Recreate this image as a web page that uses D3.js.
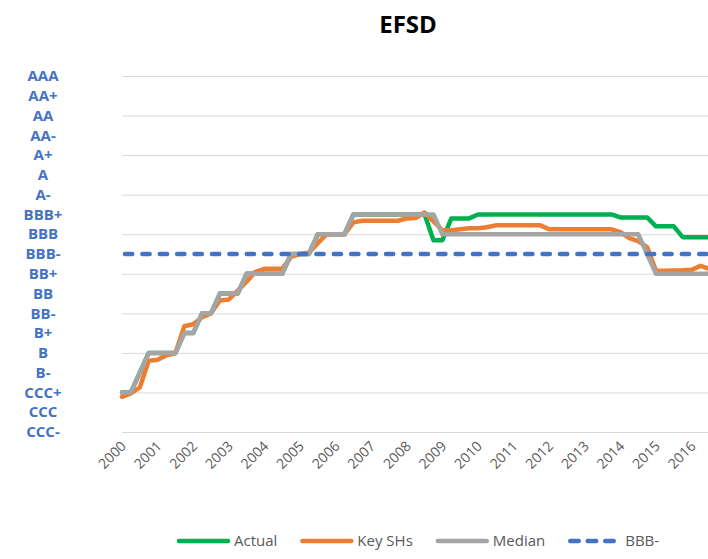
<!DOCTYPE html>
<meta charset="utf-8">
<html>
  <head>
  <title>EFSD</title>
    <style>
      body {
        margin: 0;
        background: #fff;
      }
      svg {
        display: block;
        font-family: 'Open Sans', sans-serif;
      }
      .grid line {
        stroke: #d9d9d9;
        stroke-width: 1;
      }
      .grid .domain {
        display: none;
      }
      .yLabel {
        font-weight: bold;
        font-size: 15px;
        fill: #4472C4;
      }
      .xLabel {
        font-size: 14px;
        fill: #595959;
      }
      .legendText {
        font-size: 15px;
        fill: #595959;
      }
    </style>
  </head>
  <body>
<div id="svgCanvas"></div>

<script src="https://d3js.org/d3.v7.min.js"></script>
<script>

// rating scale, bottom to top
var ratings = ["CCC-", "CCC", "CCC+", "B-", "B", "B+", "BB-", "BB", "BB+",
  "BBB-", "BBB", "BBB+", "A-", "A", "A+", "AA-", "AA", "AA+", "AAA"];

var years = [2000, 2001, 2002, 2003, 2004, 2005, 2006, 2007, 2008,
  2009, 2010, 2011, 2012, 2013, 2014, 2015, 2016];

// quarterly values, in rating notches (CCC- = 0)
var actual = [2, 2, 3, 4, 4, 4, 4, 5, 5, 6, 6, 7, 7, 7, 8, 8, 8, 8, 8, 9, 9, 9,
  10, 10, 10, 10, 11, 11, 11, 11, 11, 11, 11, 11, 11, 9.7, 9.7, 10.8, 10.8, 10.8,
  11, 11, 11, 11, 11, 11, 11, 11, 11, 11, 11, 11, 11, 11, 11, 11,
  10.85, 10.85, 10.85, 10.85, 10.4, 10.4, 10.4, 9.85, 9.85, 9.85, 9.85];

var keySHs = [1.78, 1.95, 2.25, 3.6, 3.65, 3.88, 3.98, 5.35, 5.45, 5.8, 6.0,
  6.65, 6.7, 7.15, 7.6, 8.1, 8.25, 8.25, 8.25, 8.85, 9.0, 9.07, 9.55, 10.0,
  10.0, 10.0, 10.6, 10.68, 10.68, 10.68, 10.68, 10.68, 10.8, 10.82, 11.1, 10.65,
  10.2, 10.2, 10.25, 10.3, 10.3, 10.35, 10.45, 10.45, 10.45, 10.45, 10.45, 10.45,
  10.25, 10.25, 10.25, 10.25, 10.25, 10.25, 10.25, 10.25, 10.1, 9.8, 9.65, 9.35,
  8.15, 8.15, 8.17, 8.18, 8.2, 8.4, 8.25];

var median = [2, 2, 3, 4, 4, 4, 4, 5, 5, 6, 6, 7, 7, 7, 8, 8, 8, 8, 8, 9, 9, 9,
  10, 10, 10, 10, 11, 11, 11, 11, 11, 11, 11, 11, 11, 11,
  10, 10, 10, 10, 10, 10, 10, 10, 10, 10, 10, 10, 10, 10, 10, 10, 10, 10, 10,
  10, 10, 10, 10, 9, 8, 8, 8, 8, 8, 8, 8];

var threshold = "BBB-";

var seriesNames = ["Actual", "Key SHs", "Median", "BBB-"];
var colors = ["#00B050", "#ED7D31", "#A5A5A5", "#4472C4"];

// one category per quarter
var quarters = years.flatMap(function (yr) {
  return ["Q1", "Q2", "Q3", "Q4"].map(function (q) { return yr + q; });
}).slice(0, actual.length);

var width = 708;
var height = 559;

var holder = d3.select("#svgCanvas")
    .append("svg")
      .attr("width", width)
      .attr("height", height);

var x = d3.scalePoint()
    .domain(quarters)
    .range([122, 709.4]);

var y = d3.scaleLinear()
    .domain([0, ratings.length - 1])
    .range([432, 76]);

// title
holder.append("text")
    .attr("x", 408)
    .attr("y", 33)
    .attr("text-anchor", "middle")
    .style("font-size", "24px")
    .style("font-weight", "bold")
    .style("fill", "#000")
    .text("EFSD");

// gridlines every second notch
holder.append("g")
    .attr("class", "grid")
    .attr("transform", "translate(122,0)")
    .call(d3.axisLeft(y)
      .tickValues(d3.range(0, ratings.length, 2))
      .tickSize(-(width - 122))
      .tickFormat(""));

// rating labels
holder.selectAll(".yLabel")
  .data(ratings).enter()
    .append("text")
    .attr("class", "yLabel")
    .attr("x", 43)
    .attr("y", function (d, i) { return y(i); })
    .attr("dy", "0.35em")
    .attr("text-anchor", "middle")
    .text(function (d) { return d; });

// year labels, slanted
holder.selectAll(".xLabel")
  .data(years).enter()
    .append("text")
    .attr("class", "xLabel")
    .attr("text-anchor", "end")
    .attr("transform", function (d) {
      return "translate(" + (x(d + "Q1") + 5) + ",447) rotate(-45)";
    })
    .text(function (d) { return d; });

var line = d3.line()
    .x(function (d, i) { return x(quarters[i]); })
    .y(function (d) { return y(d); });

var series = [actual, keySHs, median];

holder.selectAll(".series")
  .data(series).enter()
    .append("path")
    .attr("class", "series")
    .attr("d", line)
    .style("fill", "none")
    .style("stroke", function (d, i) { return colors[i]; })
    .style("stroke-width", 4.5)
    .style("stroke-linejoin", "round")
    .style("stroke-linecap", "round");

// BBB- reference line
var level = ratings.indexOf(threshold);
holder.append("line")
    .attr("x1", x(quarters[0]) + 3)
    .attr("x2", x(quarters[quarters.length - 1]))
    .attr("y1", y(level))
    .attr("y2", y(level))
    .style("stroke", colors[3])
    .style("stroke-width", 4.5)
    .style("stroke-linecap", "round")
    .style("stroke-dasharray", "7.2,10.2");

// legend, laid out left to right
var legendX = 177;
var legendY = 541;
seriesNames.forEach(function (name, i) {
  var g = holder.append("g").attr("class", "legend");
  g.append("line")
      .attr("x1", legendX + 2)
      .attr("x2", legendX + 51)
      .attr("y1", legendY)
      .attr("y2", legendY)
      .style("stroke", colors[i])
      .style("stroke-width", 4.5)
      .style("stroke-linecap", "round")
      .style("stroke-dasharray", i == 3 ? "8.5,9" : null);
  var t = g.append("text")
      .attr("class", "legendText")
      .attr("x", legendX + 57)
      .attr("y", legendY + 5)
      .text(name);
  legendX = legendX + 57 + t.node().getComputedTextLength() + 23;
});

</script>
  </body>
</html>
